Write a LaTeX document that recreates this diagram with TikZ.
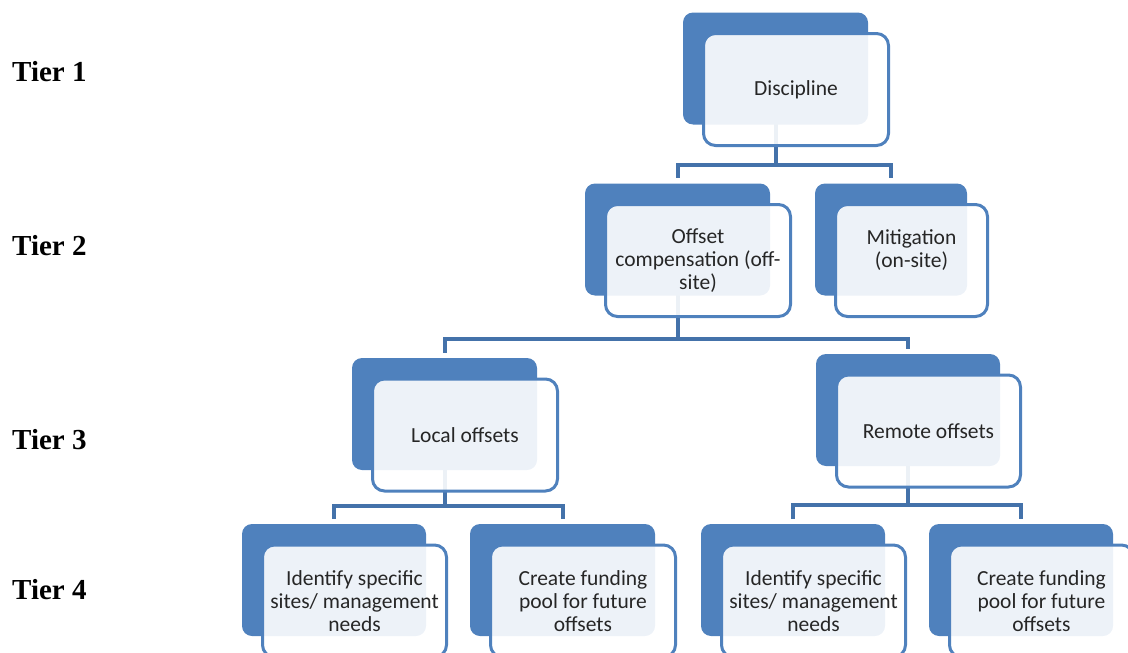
\documentclass[tikz,border=0pt]{standalone}
\usepackage{fontspec}
\setmainfont{Carlito}
\newfontfamily\tierfont{Liberation Serif}
\usetikzlibrary{calc, backgrounds}
\definecolor{boxblue}{RGB}{79,129,189}
\definecolor{lineblue}{RGB}{68,114,170}

% one SmartArt style item: dark card behind, light card in front
\newcommand{\tierbox}[4]{%
    \node[backbox, minimum width=#3] (#1-back) at #2 {};
    \node[frontbox, minimum width=#3] (#1) at ($(#1-back)+(20.5,21)$) {#4};
}

\begin{document}
\begin{tikzpicture}[x=1pt, y=-1pt,
    backbox/.style={fill=boxblue, rounded corners=10pt, minimum height=112pt, inner sep=0pt},
    frontbox/.style={draw=boxblue, line width=3pt, fill=white, fill opacity=0.9, text opacity=1,
        rounded corners=12pt, minimum height=112pt, inner sep=0pt, align=center,
        font=\fontsize{21.5}{23}\selectfont, text=black!85},
    conn/.style={draw=lineblue, line width=4pt, shorten >=5pt},
    tierlabel/.style={anchor=west, inner sep=0pt, font=\tierfont\bfseries\fontsize{29}{32}\selectfont}]
    \useasboundingbox (0,0) rectangle (1128,653);

    % Tier labels
    \node[tierlabel] (t1) at (12,72) {Tier 1};
    \node[tierlabel] (t2) at (12,246) {Tier 2};
    \node[tierlabel] (t3) at (12,440) {Tier 3};
    \node[tierlabel] (t4) at (12,590) {Tier 4};

    % Tier 1
    \tierbox{disc}{(775.5,68.5)}{185pt}{Discipline}

    % Tier 2
    \tierbox{offset}{(677.5,239.5)}{185pt}{Offset\\compensation (off-\\site)}
    \tierbox{mitig}{(891,239.5)}{152pt}{Mitigation\\(on-site)\\\mbox{}}

    % Tier 3
    \tierbox{local}{(444.5,414)}{185pt}{Local offsets}
    \tierbox{remote}{(908,410)}{184pt}{Remote offsets}

    % Tier 4
    \tierbox{siteA}{(334,580)}{184pt}{Identify specific\\sites/ management\\needs}
    \tierbox{poolA}{(562.5,580)}{185pt}{Create funding\\pool for future\\offsets}
    \tierbox{siteB}{(793,580)}{184pt}{Identify specific\\sites/ management\\needs}
    \tierbox{poolB}{(1021,580)}{184pt}{Create funding\\pool for future\\offsets}

    % Connectors (behind the cards)
    \begin{scope}[on background layer]
        \coordinate (j1) at (775.5,164.5);
        \coordinate (j2) at (677.5,339);
        \coordinate (j3) at (444.5,506);
        \coordinate (j4) at (908,504.5);
        \draw[conn, shorten >=0pt] (disc-back.center) -- (j1);
        \draw[conn] (j1) -| (offset-back.north);
        \draw[conn] (j1) -| (mitig-back.north);
        \draw[conn, shorten >=0pt] (offset-back.center) -- (j2);
        \draw[conn] (j2) -| (local-back.north);
        \draw[conn] (j2) -| (remote-back.north);
        \draw[conn, shorten >=0pt] (local-back.center) -- (j3);
        \draw[conn] (j3) -| (siteA-back.north);
        \draw[conn] (j3) -| (poolA-back.north);
        \draw[conn, shorten >=0pt] (remote-back.center) -- (j4);
        \draw[conn] (j4) -| (siteB-back.north);
        \draw[conn] (j4) -| (poolB-back.north);
    \end{scope}
\end{tikzpicture}
\end{document}
